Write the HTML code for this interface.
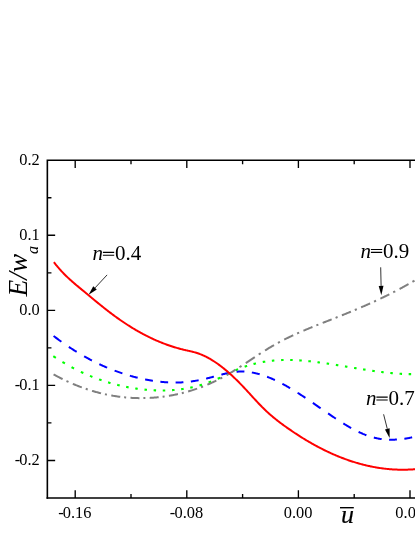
<!DOCTYPE html>
<html>
<head>
<meta charset="utf-8">
<title>E/w_a vs u</title>
<style>
html,body{margin:0;padding:0;background:#fff;}
body{width:415px;height:537px;overflow:hidden;font-family:"Liberation Serif",serif;}
svg{display:block;will-change:transform;}
svg text{font-family:"Liberation Serif",serif;fill:#000;}
</style>
</head>
<body>
<svg width="415" height="537" viewBox="0 0 415 537">
<rect width="415" height="537" fill="#fff"/>
<path d="M53.35,356.21 L53.98,356.62 L54.60,357.04 L55.23,357.45 L55.85,357.85 M62.45,361.97 L63.08,362.34 L63.70,362.71 L64.33,363.08 L64.95,363.45 M71.55,367.14 L72.17,367.48 L72.80,367.81 L73.42,368.14 L74.05,368.46 M80.85,371.84 L81.47,372.14 L82.10,372.43 L82.72,372.72 L83.35,373.01 M89.95,375.89 L90.58,376.15 L91.20,376.40 L91.83,376.65 L92.45,376.90 M99.05,379.40 L99.67,379.62 L100.30,379.84 L100.92,380.06 L101.55,380.27 M108.05,382.37 L108.67,382.55 L109.30,382.74 L109.92,382.92 L110.55,383.10 M117.20,384.89 L117.83,385.04 L118.45,385.19 L119.08,385.34 L119.70,385.49 M126.15,386.88 L126.78,387.00 L127.40,387.12 L128.03,387.24 L128.65,387.36 M135.25,388.45 L135.88,388.54 L136.50,388.63 L137.12,388.72 L137.75,388.80 M144.50,389.59 L145.12,389.65 L145.75,389.71 L146.38,389.77 L147.00,389.82 M153.60,390.27 L154.22,390.30 L154.85,390.33 L155.47,390.36 L156.10,390.38 M162.75,390.48 L163.38,390.48 L164.00,390.47 L164.62,390.46 L165.25,390.45 M172.05,390.15 L172.68,390.11 L173.30,390.06 L173.93,390.02 L174.55,389.96 M181.15,389.24 L181.78,389.16 L182.40,389.07 L183.03,388.98 L183.65,388.89 M190.25,387.70 L190.88,387.57 L191.50,387.44 L192.12,387.30 L192.75,387.16 M199.50,385.43 L200.12,385.25 L200.75,385.07 L201.38,384.88 L202.00,384.69 M208.60,382.48 L209.22,382.25 L209.85,382.02 L210.47,381.78 L211.10,381.54 M217.70,378.81 L218.32,378.53 L218.95,378.25 L219.57,377.96 L220.20,377.67 M226.65,374.57 L227.28,374.26 L227.90,373.96 L228.53,373.65 L229.15,373.35 M235.60,370.31 L236.22,370.03 L236.85,369.76 L237.47,369.49 L238.10,369.23 M244.65,366.71 L245.28,366.50 L245.90,366.29 L246.53,366.08 L247.15,365.88 M253.50,364.03 L254.12,363.87 L254.75,363.71 L255.38,363.56 L256.00,363.41 M262.75,362.01 L263.38,361.90 L264.00,361.80 L264.62,361.70 L265.25,361.60 M271.85,360.74 L272.48,360.68 L273.10,360.62 L273.73,360.56 L274.35,360.51 M281.10,360.09 L281.73,360.07 L282.35,360.05 L282.98,360.03 L283.60,360.02 M290.20,360.00 L290.82,360.01 L291.45,360.03 L292.07,360.04 L292.70,360.06 M299.30,360.37 L299.93,360.41 L300.55,360.46 L301.18,360.50 L301.80,360.55 M308.35,361.12 L308.98,361.19 L309.60,361.25 L310.23,361.32 L310.85,361.38 M317.45,362.17 L318.07,362.26 L318.70,362.34 L319.32,362.42 L319.95,362.51 M326.60,363.46 L327.23,363.55 L327.85,363.64 L328.48,363.74 L329.10,363.83 M335.85,364.90 L336.48,365.00 L337.10,365.10 L337.73,365.20 L338.35,365.30 M344.95,366.39 L345.57,366.50 L346.20,366.60 L346.82,366.70 L347.45,366.81 M354.10,367.92 L354.73,368.02 L355.35,368.12 L355.98,368.22 L356.60,368.33 M363.05,369.37 L363.68,369.47 L364.30,369.56 L364.93,369.66 L365.55,369.76 M372.25,370.76 L372.88,370.85 L373.50,370.94 L374.12,371.03 L374.75,371.11 M381.20,371.96 L381.82,372.04 L382.45,372.11 L383.07,372.19 L383.70,372.26 M390.30,372.97 L390.93,373.03 L391.55,373.09 L392.18,373.15 L392.80,373.20 M399.55,373.72 L400.18,373.76 L400.80,373.79 L401.43,373.83 L402.05,373.86 M408.65,374.12 L409.27,374.13 L409.90,374.14 L410.52,374.15 L411.15,374.16" fill="none" stroke="#00ff00" stroke-width="2.1"/>
<path d="M53.60,335.97 L54.31,336.51 L55.02,337.05 L55.73,337.59 L56.44,338.12 L57.15,338.65 L57.85,339.17 L58.56,339.69 L59.27,340.21 L59.98,340.73 L60.69,341.24 L61.40,341.75 M68.85,346.89 L69.56,347.36 L70.27,347.82 L70.98,348.29 L71.69,348.75 L72.40,349.20 L73.10,349.66 L73.81,350.11 L74.52,350.55 L75.23,351.00 L75.94,351.44 L76.65,351.87 M84.10,356.27 L84.81,356.67 L85.52,357.07 L86.23,357.46 L86.94,357.85 L87.65,358.24 L88.35,358.62 L89.06,359.00 L89.77,359.38 L90.48,359.76 L91.19,360.13 L91.90,360.49 M99.35,364.17 L100.06,364.50 L100.77,364.83 L101.48,365.16 L102.19,365.48 L102.90,365.80 L103.60,366.12 L104.31,366.43 L105.02,366.74 L105.73,367.05 L106.44,367.35 L107.15,367.65 M114.60,370.63 L115.31,370.90 L116.02,371.16 L116.73,371.42 L117.44,371.68 L118.15,371.93 L118.85,372.18 L119.56,372.43 L120.27,372.68 L120.98,372.92 L121.69,373.16 L122.40,373.39 M129.85,375.70 L130.56,375.90 L131.27,376.10 L131.98,376.29 L132.69,376.49 L133.40,376.68 L134.10,376.87 L134.81,377.05 L135.52,377.23 L136.23,377.41 L136.94,377.59 L137.65,377.76 M145.10,379.41 L145.81,379.55 L146.52,379.69 L147.23,379.82 L147.94,379.95 L148.65,380.08 L149.35,380.21 L150.06,380.33 L150.77,380.45 L151.48,380.57 L152.19,380.68 L152.90,380.79 M160.35,381.76 L161.06,381.84 L161.77,381.91 L162.48,381.97 L163.19,382.04 L163.90,382.10 L164.60,382.15 L165.31,382.21 L166.02,382.25 L166.73,382.30 L167.44,382.34 L168.15,382.38 M175.60,382.55 L176.31,382.55 L177.02,382.54 L177.73,382.52 L178.44,382.51 L179.15,382.49 L179.85,382.46 L180.56,382.43 L181.27,382.40 L181.98,382.36 L182.69,382.32 L183.40,382.27 M190.85,381.52 L191.56,381.42 L192.27,381.32 L192.98,381.22 L193.69,381.11 L194.40,380.99 L195.10,380.87 L195.81,380.75 L196.52,380.63 L197.23,380.50 L197.94,380.36 L198.65,380.23 M206.10,378.61 L206.81,378.44 L207.52,378.26 L208.23,378.09 L208.94,377.91 L209.65,377.73 L210.35,377.55 L211.06,377.37 L211.77,377.19 L212.48,377.00 L213.19,376.82 L213.90,376.63 M221.35,374.63 L222.06,374.45 L222.77,374.27 L223.48,374.09 L224.19,373.92 L224.90,373.75 L225.60,373.58 L226.31,373.42 L227.02,373.26 L227.73,373.10 L228.44,372.96 L229.15,372.81 M236.60,371.73 L237.31,371.68 L238.02,371.63 L238.73,371.60 L239.44,371.57 L240.15,371.55 L240.85,371.54 L241.56,371.54 L242.27,371.55 L242.98,371.56 L243.69,371.59 L244.40,371.62 M251.85,372.48 L252.56,372.61 L253.27,372.74 L253.98,372.88 L254.69,373.03 L255.40,373.19 L256.10,373.35 L256.81,373.52 L257.52,373.70 L258.23,373.89 L258.94,374.08 L259.65,374.28 M267.10,376.76 L267.81,377.03 L268.52,377.31 L269.23,377.60 L269.94,377.89 L270.65,378.18 L271.35,378.48 L272.06,378.79 L272.77,379.10 L273.48,379.42 L274.19,379.74 L274.90,380.06 M282.35,383.79 L283.06,384.17 L283.77,384.56 L284.48,384.94 L285.19,385.34 L285.90,385.73 L286.60,386.13 L287.31,386.54 L288.02,386.95 L288.73,387.36 L289.44,387.77 L290.15,388.19 M297.60,392.77 L298.31,393.23 L299.02,393.68 L299.73,394.14 L300.44,394.60 L301.15,395.06 L301.85,395.52 L302.56,395.99 L303.27,396.45 L303.98,396.92 L304.69,397.39 L305.40,397.87 M312.85,402.92 L313.56,403.41 L314.27,403.89 L314.98,404.38 L315.69,404.87 L316.40,405.36 L317.10,405.85 L317.81,406.34 L318.52,406.83 L319.23,407.32 L319.94,407.81 L320.65,408.30 M328.10,413.43 L328.81,413.92 L329.52,414.40 L330.23,414.89 L330.94,415.37 L331.65,415.85 L332.35,416.33 L333.06,416.80 L333.77,417.28 L334.48,417.75 L335.19,418.22 L335.90,418.69 M343.35,423.46 L344.06,423.90 L344.77,424.33 L345.48,424.76 L346.19,425.19 L346.90,425.61 L347.60,426.03 L348.31,426.44 L349.02,426.85 L349.73,427.26 L350.44,427.66 L351.15,428.05 M358.60,431.90 L359.31,432.24 L360.02,432.57 L360.73,432.89 L361.44,433.20 L362.15,433.51 L362.85,433.82 L363.56,434.11 L364.27,434.40 L364.98,434.69 L365.69,434.96 L366.40,435.23 M373.85,437.59 L374.56,437.77 L375.27,437.94 L375.98,438.10 L376.69,438.25 L377.40,438.39 L378.10,438.53 L378.81,438.66 L379.52,438.78 L380.23,438.89 L380.94,439.00 L381.65,439.10 M389.10,439.69 L389.81,439.71 L390.52,439.72 L391.23,439.72 L391.94,439.72 L392.65,439.71 L393.35,439.70 L394.06,439.67 L394.77,439.65 L395.48,439.61 L396.19,439.58 L396.90,439.53 M404.35,438.74 L405.06,438.64 L405.77,438.53 L406.48,438.41 L407.19,438.29 L407.90,438.17 L408.60,438.05 L409.31,437.91 L410.02,437.78 L410.73,437.64 L411.44,437.50 L412.15,437.35" fill="none" stroke="#0000ff" stroke-width="2.0"/>
<path d="M53.60,374.42 L54.35,374.83 L55.10,375.24 L55.85,375.65 L56.60,376.05 L57.35,376.45 L58.10,376.84 L58.85,377.24 L59.60,377.62 L60.35,378.01 L61.10,378.39 L61.85,378.76 L62.60,379.14 M66.50,381.01 L67.17,381.32 L67.83,381.63 L68.50,381.94 M72.82,383.84 L73.57,384.16 L74.32,384.47 L75.07,384.78 L75.82,385.09 L76.57,385.39 L77.32,385.69 L78.07,385.99 L78.82,386.28 L79.57,386.57 L80.32,386.86 L81.07,387.14 L81.82,387.42 M85.72,388.80 L86.39,389.03 L87.05,389.25 L87.72,389.47 M92.04,390.84 L92.79,391.07 L93.54,391.29 L94.29,391.50 L95.04,391.72 L95.79,391.93 L96.54,392.14 L97.29,392.34 L98.04,392.54 L98.79,392.74 L99.54,392.93 L100.29,393.12 L101.04,393.30 M104.94,394.21 L105.61,394.36 L106.27,394.50 L106.94,394.64 M111.26,395.48 L112.01,395.61 L112.76,395.74 L113.51,395.87 L114.26,395.99 L115.01,396.11 L115.76,396.23 L116.51,396.34 L117.26,396.45 L118.01,396.56 L118.76,396.66 L119.51,396.76 L120.26,396.86 M124.16,397.30 L124.83,397.36 L125.49,397.43 L126.16,397.49 M130.48,397.82 L131.23,397.86 L131.98,397.90 L132.73,397.94 L133.48,397.98 L134.23,398.01 L134.98,398.04 L135.73,398.06 L136.48,398.08 L137.23,398.10 L137.98,398.12 L138.73,398.13 L139.48,398.14 M143.38,398.12 L144.05,398.11 L144.71,398.10 L145.38,398.08 M149.70,397.91 L150.45,397.87 L151.20,397.82 L151.95,397.77 L152.70,397.72 L153.45,397.67 L154.20,397.61 L154.95,397.55 L155.70,397.49 L156.45,397.42 L157.20,397.35 L157.95,397.27 L158.70,397.20 M162.60,396.74 L163.27,396.65 L163.93,396.56 L164.60,396.47 M168.92,395.81 L169.67,395.69 L170.42,395.56 L171.17,395.43 L171.92,395.29 L172.67,395.15 L173.42,395.01 L174.17,394.86 L174.92,394.71 L175.67,394.56 L176.42,394.40 L177.17,394.24 L177.92,394.08 M181.82,393.17 L182.49,393.00 L183.15,392.83 L183.82,392.66 M188.14,391.48 L188.89,391.26 L189.64,391.04 L190.39,390.82 L191.14,390.59 L191.89,390.36 L192.64,390.12 L193.39,389.88 L194.14,389.64 L194.89,389.39 L195.64,389.14 L196.39,388.88 L197.14,388.62 M201.04,387.21 L201.71,386.95 L202.37,386.70 L203.04,386.44 M207.36,384.68 L208.11,384.36 L208.86,384.04 L209.61,383.71 L210.36,383.38 L211.11,383.05 L211.86,382.71 L212.61,382.36 L213.36,382.01 L214.11,381.66 L214.86,381.30 L215.61,380.94 L216.36,380.58 M220.26,378.60 L220.93,378.25 L221.59,377.90 L222.26,377.54 M226.58,375.14 L227.33,374.71 L228.08,374.27 L228.83,373.83 L229.58,373.39 L230.33,372.94 L231.08,372.48 L231.83,372.03 L232.58,371.57 L233.33,371.10 L234.08,370.64 L234.83,370.17 L235.58,369.69 M239.48,367.19 L240.15,366.76 L240.81,366.32 L241.48,365.89 M245.80,363.04 L246.55,362.55 L247.30,362.05 L248.05,361.55 L248.80,361.05 L249.55,360.56 L250.30,360.06 L251.05,359.56 L251.80,359.06 L252.55,358.57 L253.30,358.07 L254.05,357.58 L254.80,357.08 M258.70,354.53 L259.37,354.10 L260.03,353.67 L260.70,353.24 M265.02,350.49 L265.77,350.03 L266.52,349.56 L267.27,349.10 L268.02,348.64 L268.77,348.18 L269.52,347.73 L270.27,347.28 L271.02,346.83 L271.77,346.39 L272.52,345.95 L273.27,345.52 L274.02,345.09 M277.92,342.91 L278.59,342.55 L279.25,342.19 L279.92,341.84 M284.24,339.60 L284.99,339.22 L285.74,338.84 L286.49,338.47 L287.24,338.10 L287.99,337.74 L288.74,337.37 L289.49,337.01 L290.24,336.66 L290.99,336.30 L291.74,335.95 L292.49,335.60 L293.24,335.25 M297.14,333.47 L297.81,333.17 L298.47,332.88 L299.14,332.58 M303.46,330.71 L304.21,330.39 L304.96,330.07 L305.71,329.75 L306.46,329.44 L307.21,329.12 L307.96,328.81 L308.71,328.50 L309.46,328.19 L310.21,327.88 L310.96,327.58 L311.71,327.27 L312.46,326.96 M316.36,325.39 L317.03,325.13 L317.69,324.86 L318.36,324.59 M322.68,322.89 L323.43,322.59 L324.18,322.30 L324.93,322.00 L325.68,321.71 L326.43,321.42 L327.18,321.12 L327.93,320.83 L328.68,320.53 L329.43,320.24 L330.18,319.95 L330.93,319.65 L331.68,319.36 M335.58,317.83 L336.25,317.56 L336.91,317.30 L337.58,317.04 M341.90,315.31 L342.65,315.01 L343.40,314.71 L344.15,314.41 L344.90,314.11 L345.65,313.80 L346.40,313.50 L347.15,313.19 L347.90,312.89 L348.65,312.58 L349.40,312.27 L350.15,311.96 L350.90,311.65 M354.80,310.03 L355.47,309.75 L356.13,309.47 L356.80,309.19 M361.12,307.35 L361.87,307.03 L362.62,306.70 L363.37,306.38 L364.12,306.05 L364.87,305.72 L365.62,305.39 L366.37,305.06 L367.12,304.73 L367.87,304.40 L368.62,304.07 L369.37,303.73 L370.12,303.40 M374.02,301.63 L374.69,301.32 L375.35,301.01 L376.02,300.70 M380.34,298.68 L381.09,298.32 L381.84,297.96 L382.59,297.60 L383.34,297.24 L384.09,296.88 L384.84,296.51 L385.59,296.15 L386.34,295.78 L387.09,295.41 L387.84,295.04 L388.59,294.66 L389.34,294.29 M393.24,292.31 L393.91,291.97 L394.57,291.63 L395.24,291.28 M399.56,289.00 L400.31,288.60 L401.06,288.20 L401.81,287.79 L402.56,287.39 L403.31,286.98 L404.06,286.56 L404.81,286.15 L405.56,285.73 L406.31,285.32 L407.06,284.90 L407.81,284.47 L408.56,284.05 M412.46,281.81 L413.13,281.42 L413.79,281.03 L414.46,280.63" fill="none" stroke="#808080" stroke-width="2.0"/>
<path d="M53.90,262.19 L54.65,263.16 L55.40,264.11 L56.15,265.04 L56.90,265.95 L57.65,266.84 L58.40,267.72 L59.14,268.58 L59.89,269.43 L60.64,270.26 L61.39,271.08 L62.14,271.88 L62.89,272.67 L63.64,273.44 L64.39,274.21 L65.14,274.96 L65.89,275.70 L66.64,276.43 L67.39,277.14 L68.13,277.85 L68.88,278.55 L69.63,279.24 L70.38,279.92 L71.13,280.60 L71.88,281.26 L72.63,281.92 L73.38,282.58 L74.13,283.22 L74.88,283.87 L75.63,284.50 L76.38,285.14 L77.12,285.77 L77.87,286.39 L78.62,287.02 L79.37,287.64 L80.12,288.26 L80.87,288.88 L81.62,289.50 L82.37,290.12 L83.12,290.73 L83.87,291.35 L84.62,291.97 L85.37,292.59 L86.11,293.22 L86.86,293.84 L87.61,294.46 L88.36,295.08 L89.11,295.70 L89.86,296.32 L90.61,296.94 L91.36,297.56 L92.11,298.18 L92.86,298.80 L93.61,299.41 L94.36,300.03 L95.10,300.65 L95.85,301.26 L96.60,301.88 L97.35,302.49 L98.10,303.10 L98.85,303.71 L99.60,304.32 L100.35,304.92 L101.10,305.53 L101.85,306.13 L102.60,306.73 L103.35,307.32 L104.09,307.92 L104.84,308.51 L105.59,309.10 L106.34,309.69 L107.09,310.28 L107.84,310.86 L108.59,311.44 L109.34,312.02 L110.09,312.59 L110.84,313.16 L111.59,313.73 L112.34,314.29 L113.08,314.85 L113.83,315.41 L114.58,315.96 L115.33,316.51 L116.08,317.05 L116.83,317.59 L117.58,318.13 L118.33,318.66 L119.08,319.19 L119.83,319.72 L120.58,320.24 L121.33,320.76 L122.08,321.27 L122.82,321.78 L123.57,322.29 L124.32,322.79 L125.07,323.28 L125.82,323.78 L126.57,324.27 L127.32,324.75 L128.07,325.23 L128.82,325.71 L129.57,326.19 L130.32,326.66 L131.07,327.12 L131.81,327.58 L132.56,328.04 L133.31,328.49 L134.06,328.94 L134.81,329.39 L135.56,329.83 L136.31,330.27 L137.06,330.70 L137.81,331.13 L138.56,331.56 L139.31,331.98 L140.06,332.40 L140.80,332.81 L141.55,333.22 L142.30,333.62 L143.05,334.03 L143.80,334.42 L144.55,334.82 L145.30,335.21 L146.05,335.59 L146.80,335.97 L147.55,336.35 L148.30,336.72 L149.05,337.09 L149.79,337.45 L150.54,337.82 L151.29,338.17 L152.04,338.52 L152.79,338.87 L153.54,339.22 L154.29,339.56 L155.04,339.89 L155.79,340.23 L156.54,340.55 L157.29,340.88 L158.04,341.20 L158.78,341.51 L159.53,341.82 L160.28,342.13 L161.03,342.43 L161.78,342.73 L162.53,343.03 L163.28,343.32 L164.03,343.61 L164.78,343.89 L165.53,344.17 L166.28,344.45 L167.03,344.72 L167.77,344.98 L168.52,345.25 L169.27,345.51 L170.02,345.76 L170.77,346.01 L171.52,346.26 L172.27,346.50 L173.02,346.74 L173.77,346.98 L174.52,347.21 L175.27,347.43 L176.02,347.66 L176.77,347.88 L177.51,348.09 L178.26,348.30 L179.01,348.51 L179.76,348.71 L180.51,348.91 L181.26,349.11 L182.01,349.30 L182.76,349.49 L183.51,349.67 L184.26,349.85 L185.01,350.03 L185.76,350.20 L186.50,350.37 L187.25,350.54 L188.00,350.71 L188.75,350.87 L189.50,351.04 L190.25,351.22 L191.00,351.39 L191.75,351.57 L192.50,351.76 L193.25,351.95 L194.00,352.14 L194.75,352.35 L195.49,352.56 L196.24,352.78 L196.99,353.02 L197.74,353.26 L198.49,353.52 L199.24,353.79 L199.99,354.07 L200.74,354.36 L201.49,354.66 L202.24,354.98 L202.99,355.30 L203.74,355.64 L204.48,355.99 L205.23,356.35 L205.98,356.72 L206.73,357.10 L207.48,357.49 L208.23,357.89 L208.98,358.31 L209.73,358.73 L210.48,359.16 L211.23,359.61 L211.98,360.06 L212.73,360.53 L213.47,361.00 L214.22,361.49 L214.97,361.98 L215.72,362.48 L216.47,363.00 L217.22,363.52 L217.97,364.05 L218.72,364.59 L219.47,365.14 L220.22,365.70 L220.97,366.27 L221.72,366.84 L222.46,367.43 L223.21,368.02 L223.96,368.63 L224.71,369.24 L225.46,369.86 L226.21,370.49 L226.96,371.12 L227.71,371.77 L228.46,372.42 L229.21,373.08 L229.96,373.74 L230.71,374.42 L231.45,375.10 L232.20,375.79 L232.95,376.49 L233.70,377.19 L234.45,377.91 L235.20,378.63 L235.95,379.35 L236.70,380.08 L237.45,380.82 L238.20,381.57 L238.95,382.32 L239.70,383.08 L240.45,383.85 L241.19,384.62 L241.94,385.39 L242.69,386.18 L243.44,386.97 L244.19,387.76 L244.94,388.56 L245.69,389.37 L246.44,390.18 L247.19,390.99 L247.94,391.81 L248.69,392.62 L249.44,393.44 L250.18,394.26 L250.93,395.09 L251.68,395.91 L252.43,396.73 L253.18,397.55 L253.93,398.37 L254.68,399.18 L255.43,399.99 L256.18,400.80 L256.93,401.61 L257.68,402.41 L258.43,403.20 L259.17,403.99 L259.92,404.78 L260.67,405.55 L261.42,406.32 L262.17,407.08 L262.92,407.83 L263.67,408.58 L264.42,409.31 L265.17,410.03 L265.92,410.74 L266.67,411.44 L267.42,412.14 L268.16,412.82 L268.91,413.49 L269.66,414.16 L270.41,414.82 L271.16,415.46 L271.91,416.10 L272.66,416.74 L273.41,417.36 L274.16,417.98 L274.91,418.59 L275.66,419.19 L276.41,419.79 L277.15,420.38 L277.90,420.96 L278.65,421.54 L279.40,422.11 L280.15,422.68 L280.90,423.24 L281.65,423.80 L282.40,424.35 L283.15,424.90 L283.90,425.44 L284.65,425.98 L285.40,426.52 L286.14,427.05 L286.89,427.58 L287.64,428.11 L288.39,428.63 L289.14,429.16 L289.89,429.67 L290.64,430.19 L291.39,430.70 L292.14,431.21 L292.89,431.72 L293.64,432.22 L294.39,432.72 L295.13,433.22 L295.88,433.71 L296.63,434.20 L297.38,434.69 L298.13,435.17 L298.88,435.65 L299.63,436.13 L300.38,436.61 L301.13,437.08 L301.88,437.55 L302.63,438.01 L303.38,438.48 L304.13,438.94 L304.87,439.39 L305.62,439.84 L306.37,440.29 L307.12,440.74 L307.87,441.18 L308.62,441.62 L309.37,442.06 L310.12,442.49 L310.87,442.92 L311.62,443.35 L312.37,443.77 L313.12,444.19 L313.86,444.61 L314.61,445.03 L315.36,445.44 L316.11,445.84 L316.86,446.25 L317.61,446.65 L318.36,447.05 L319.11,447.44 L319.86,447.83 L320.61,448.22 L321.36,448.60 L322.11,448.98 L322.85,449.36 L323.60,449.74 L324.35,450.11 L325.10,450.48 L325.85,450.84 L326.60,451.20 L327.35,451.56 L328.10,451.91 L328.85,452.26 L329.60,452.61 L330.35,452.95 L331.10,453.30 L331.84,453.63 L332.59,453.97 L333.34,454.30 L334.09,454.62 L334.84,454.95 L335.59,455.27 L336.34,455.58 L337.09,455.90 L337.84,456.21 L338.59,456.51 L339.34,456.82 L340.09,457.12 L340.83,457.41 L341.58,457.71 L342.33,458.00 L343.08,458.28 L343.83,458.56 L344.58,458.84 L345.33,459.12 L346.08,459.39 L346.83,459.66 L347.58,459.93 L348.33,460.19 L349.08,460.45 L349.82,460.70 L350.57,460.95 L351.32,461.20 L352.07,461.44 L352.82,461.68 L353.57,461.92 L354.32,462.16 L355.07,462.39 L355.82,462.61 L356.57,462.84 L357.32,463.06 L358.07,463.27 L358.82,463.49 L359.56,463.70 L360.31,463.90 L361.06,464.10 L361.81,464.30 L362.56,464.50 L363.31,464.69 L364.06,464.88 L364.81,465.06 L365.56,465.24 L366.31,465.42 L367.06,465.60 L367.81,465.77 L368.55,465.93 L369.30,466.10 L370.05,466.26 L370.80,466.41 L371.55,466.57 L372.30,466.72 L373.05,466.86 L373.80,467.00 L374.55,467.14 L375.30,467.28 L376.05,467.41 L376.80,467.54 L377.54,467.66 L378.29,467.78 L379.04,467.90 L379.79,468.01 L380.54,468.12 L381.29,468.23 L382.04,468.33 L382.79,468.43 L383.54,468.52 L384.29,468.62 L385.04,468.70 L385.79,468.79 L386.53,468.87 L387.28,468.95 L388.03,469.02 L388.78,469.09 L389.53,469.16 L390.28,469.22 L391.03,469.28 L391.78,469.33 L392.53,469.39 L393.28,469.43 L394.03,469.48 L394.78,469.52 L395.52,469.56 L396.27,469.59 L397.02,469.62 L397.77,469.65 L398.52,469.67 L399.27,469.69 L400.02,469.70 L400.77,469.71 L401.52,469.72 L402.27,469.72 L403.02,469.72 L403.77,469.72 L404.51,469.71 L405.26,469.70 L406.01,469.69 L406.76,469.67 L407.51,469.65 L408.26,469.62 L409.01,469.59 L409.76,469.56 L410.51,469.52 L411.26,469.48 L412.01,469.44 L412.76,469.39 L413.50,469.34 L414.25,469.28 L415.00,469.22 L415.75,469.16 L416.50,469.09 L417.25,469.02 L418.00,468.95" fill="none" stroke="#ff0000" stroke-width="2.0" stroke-linejoin="round"/>
<path d="M47.35,498.8 V160.2 H417" fill="none" stroke="#000" stroke-width="1.6" stroke-linejoin="miter"/>
<path d="M46.550000000000004,498.0 H417" fill="none" stroke="#000" stroke-width="1.6"/>
<path d="M47.35,197.73 h4.1 M47.35,235.27 h7.8 M47.35,272.80 h4.1 M47.35,310.33 h7.8 M47.35,347.87 h4.1 M47.35,385.40 h7.8 M47.35,422.93 h4.1 M47.35,460.47 h7.8 M75.20,498.0 v-7.8 M75.20,160.2 v7.8 M131.00,498.0 v-4.1 M131.00,160.2 v4.1 M186.80,498.0 v-7.8 M186.80,160.2 v7.8 M242.60,498.0 v-4.1 M242.60,160.2 v4.1 M298.40,498.0 v-7.8 M298.40,160.2 v7.8 M354.20,498.0 v-4.1 M354.20,160.2 v4.1 M410.00,498.0 v-7.8 M410.00,160.2 v7.8" fill="none" stroke="#000" stroke-width="1.35"/>
<text x="39.8" y="164.50" font-size="16.4" text-anchor="end">0.2</text>
<text x="39.8" y="239.57" font-size="16.4" text-anchor="end">0.1</text>
<text x="39.8" y="314.63" font-size="16.4" text-anchor="end">0.0</text>
<text x="39.8" y="389.70" font-size="16.4" text-anchor="end">-<tspan dx="-0.9">0.1</tspan></text>
<text x="39.8" y="464.77" font-size="16.4" text-anchor="end">-<tspan dx="-0.9">0.2</tspan></text>
<text x="74.90" y="517.7" font-size="16.4" text-anchor="middle">-<tspan dx="-0.9">0.16</tspan></text>
<text x="186.50" y="517.7" font-size="16.4" text-anchor="middle">-<tspan dx="-0.9">0.08</tspan></text>
<text x="298.10" y="517.7" font-size="16.4" text-anchor="middle">0.00</text>
<text x="409.70" y="517.7" font-size="16.4" text-anchor="middle">0.08</text>
<text x="92.40" y="260.40" font-size="21" font-style="italic">n</text>
<path d="M102.90,252.40 h11.3 M102.90,255.25 h11.3" stroke="#000" stroke-width="1.15" fill="none"/>
<text x="114.90" y="260.40" font-size="21">0.4</text>
<text x="360.40" y="257.50" font-size="21" font-style="italic">n</text>
<path d="M370.90,249.50 h11.3 M370.90,252.35 h11.3" stroke="#000" stroke-width="1.15" fill="none"/>
<text x="382.90" y="257.50" font-size="21">0.9</text>
<text x="365.90" y="405.10" font-size="21" font-style="italic">n</text>
<path d="M376.40,397.10 h11.3 M376.40,399.95 h11.3" stroke="#000" stroke-width="1.15" fill="none"/>
<text x="388.40" y="405.10" font-size="21">0.7</text>
<path d="M107.10,274.90 L95.00,287.92" stroke="#000" stroke-width="0.8" fill="none"/>
<path d="M88.60,294.80 L93.24,286.28 L96.76,289.55 Z" fill="#000"/>
<path d="M380.70,267.30 L381.10,285.90" stroke="#000" stroke-width="0.8" fill="none"/>
<path d="M381.30,295.30 L378.70,285.95 L383.50,285.85 Z" fill="#000"/>
<path d="M383.60,414.30 L387.28,428.79" stroke="#000" stroke-width="0.8" fill="none"/>
<path d="M389.60,437.90 L384.96,429.38 L389.61,428.20 Z" fill="#000"/>
<text x="341.1" y="522.5" font-size="26" font-style="italic" stroke="#000" stroke-width="0.15">u</text>
<path d="M340.0,507.7 H353.8" stroke="#000" stroke-width="1.4" fill="none"/>
<text transform="translate(26.7,296.6) rotate(-90)" font-size="27.5" font-style="italic">E/w</text>
<text transform="translate(37.9,254) rotate(-90)" font-size="16" font-style="italic">a</text>
</svg>
</body>
</html>
